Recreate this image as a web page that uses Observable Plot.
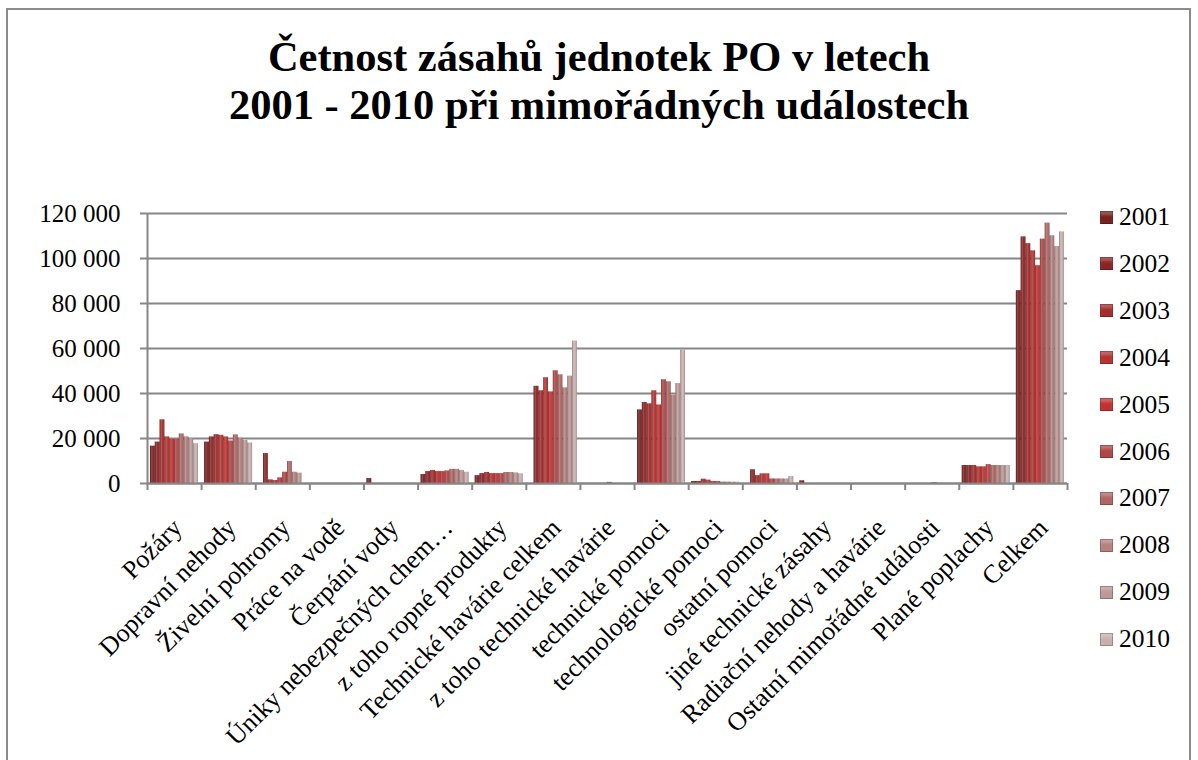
<!DOCTYPE html>
<html><head><meta charset="utf-8">
<script src="https://cdn.jsdelivr.net/npm/d3@7"></script>
<script src="https://cdn.jsdelivr.net/npm/@observablehq/plot@0.6"></script>
<style>
*{font-family:"Liberation Serif",serif !important;}
body{margin:0;width:1198px;height:760px;overflow:hidden;background:#fff;}
#wrap{position:relative;width:1198px;height:760px;overflow:hidden;}
#frame{position:absolute;left:6px;top:8px;width:1185px;height:790px;border:2px solid #8c8c8c;box-sizing:border-box;}
#title{position:absolute;left:0;width:1198px;top:33px;text-align:center;font-weight:bold;font-size:42.5px;line-height:48px;color:#000;}
#chart{position:absolute;left:0;top:140px;}
#legend{position:absolute;left:1100px;top:0;}
.item{position:absolute;left:0;height:30px;display:flex;align-items:center;font-size:25.5px;white-space:nowrap;color:#000;}
.sw{width:13px;height:13px;margin-right:6px;box-shadow:inset 0 0 0 1px rgba(0,0,0,0.25), inset 0 4px 3px rgba(255,255,255,0.25);}
</style>
</head><body>
<div id="wrap">
  <div id="frame"></div>
  <div id="title">Četnost zásahů jednotek PO v letech<br>2001 - 2010 při mimořádných událostech</div>
  <div id="chart"></div>
  <div id="legend"></div>
</div>
<script>
const categories = ["Požáry","Dopravní nehody","Živelní pohromy","Práce na vodě","Čerpání vody","Úniky nebezpečných chem…","z toho ropné produkty","Technické havárie celkem","z toho technické havárie","technické pomoci","technologické pomoci","ostatní pomoci","jiné technické zásahy","Radiační nehody a havárie","Ostatní mimořádné události","Plané poplachy","Celkem"];
const years = ["2001","2002","2003","2004","2005","2006","2007","2008","2009","2010"];
const colors = ["#7a1f1f","#8c2424","#a52b2b","#b53331","#c23130","#b04645","#b06664","#b5807e","#bc9896","#c9b0ae"];
const yTicks = [0,20000,40000,60000,80000,100000,120000];

const v2001 = [16600,18400,0,0,2200,4000,3500,0,0,32700,900,0,1200,0,0,8000,85700];
const v2002 = [18400,20700,13300,0,0,5300,4400,43200,0,36000,900,6100,0,0,0,8000,109600];
const v2003 = [28300,21700,1600,0,0,5800,4900,41200,0,35400,1900,3500,0,0,0,8000,106600];
const v2004 = [20700,21400,1300,0,0,5300,4400,47000,0,41200,1500,4300,0,0,0,7400,103400];
const v2005 = [19600,20700,2500,0,0,5300,4400,40700,0,34900,900,4300,0,0,0,7400,96800];
const v2006 = [19600,18900,5000,0,0,5600,4400,50100,500,46100,900,2000,0,0,400,8400,108600];
const v2007 = [22000,21600,9800,0,0,6300,4900,48300,0,45200,600,2000,0,0,0,8000,115700];
const v2008 = [20700,20100,5000,0,0,6300,4900,42500,0,39200,600,2000,0,0,0,8000,110100];
const v2009 = [19900,19100,4600,0,0,5800,4700,47700,0,44400,600,2000,0,0,0,8000,105300];
const v2010 = [17700,18000,0,0,0,5000,4300,63300,0,59300,600,3100,0,0,0,8000,111800];
const series = [v2001,v2002,v2003,v2004,v2005,v2006,v2007,v2008,v2009,v2010];

const rows = [];
years.forEach((yr, yi) => categories.forEach((c, ci) => rows.push({year: yr, yi, ci, value: series[yi][ci]})));

const barW = 0.0887, off = 0.055;
const x1 = d => d.ci + off + d.yi * barW;
const x2 = d => d.ci + off + (d.yi + 1) * barW;
const fmt = d => d3.format(",")(d).replace(/,/g, " ");
const FONT = "Liberation Serif, serif";

const plot = Plot.plot({
  width: 1198, height: 620,
  marginLeft: 147, marginRight: 131, marginTop: 73, marginBottom: 277,
  x: {domain: [0, 17], axis: null},
  y: {domain: [0, 120000], axis: null},
  color: {domain: years, range: colors},
  style: {fontFamily: FONT, fontSize: "25px", color: "#000", background: "transparent", overflow: "visible"},
  marks: [
    Plot.gridY(yTicks, {stroke: "#868686", strokeOpacity: 1, strokeWidth: 2}),
    Plot.axisY(yTicks, {label: null, tickSize: 7, tickPadding: 20, tickFormat: fmt, stroke: "#868686", strokeWidth: 2, fill: "#000", fontSize: 25, fontFamily: FONT}),
    Plot.axisX(d3.range(18), {label: null, tickSize: 7, tickFormat: () => "", stroke: "#868686", strokeWidth: 2}),
    Plot.rectY(rows, {x1, x2, y: "value", fill: "year"}),
    Plot.rectY(rows, {x1, x2, y: "value", fill: "url(#cyl)"}),
    Plot.ruleX([0], {stroke: "#868686", strokeWidth: 2}),
    Plot.ruleY([0], {stroke: "#868686", strokeWidth: 2}),
    Plot.text(categories, {x: (d, i) => i + 0.5, y: 0, text: d => d, rotate: -45, textAnchor: "end", dx: 3, dy: 40, fontSize: 26, fontFamily: FONT, fill: "#000"})
  ]
});
d3.select(plot).insert("defs", ":first-child").html(
  '<linearGradient id="cyl" x1="0" x2="1" y1="0" y2="0">' +
  '<stop offset="0" stop-color="#000" stop-opacity="0.28"/>' +
  '<stop offset="0.4" stop-color="#fff" stop-opacity="0.18"/>' +
  '<stop offset="0.6" stop-color="#fff" stop-opacity="0.05"/>' +
  '<stop offset="1" stop-color="#000" stop-opacity="0.25"/>' +
  '</linearGradient>');
document.getElementById("chart").appendChild(plot);

const legend = document.getElementById("legend");
years.forEach((yr, i) => {
  const it = document.createElement("div");
  it.className = "item";
  it.style.top = (217 + i * 46.9 - 15) + "px";
  const sw = document.createElement("span");
  sw.className = "sw";
  sw.style.background = colors[i];
  const t = document.createElement("span");
  t.textContent = yr;
  it.appendChild(sw); it.appendChild(t);
  legend.appendChild(it);
});
</script>
</body></html>
